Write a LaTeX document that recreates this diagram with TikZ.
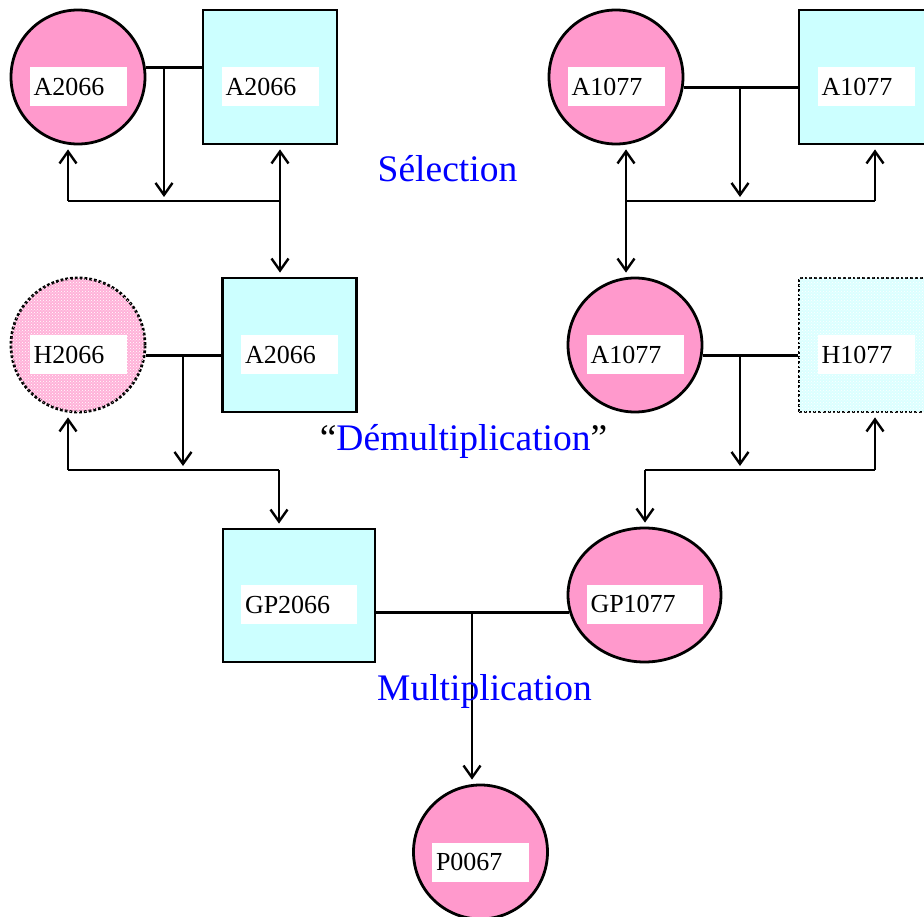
\documentclass[tikz,border=0pt]{standalone}
\usepackage{fontspec}
\setmainfont{Liberation Serif}
\usepackage{xcolor}
\usepackage{tikz}
\usetikzlibrary{arrows.meta,shapes.geometric,patterns}
\definecolor{pinkfill}{RGB}{255,153,204}
\definecolor{cyanfill}{RGB}{204,255,255}
\definecolor{stageblue}{RGB}{0,0,255}
\newcommand{\labfont}{\fontsize{26}{26}\selectfont}
\newcommand{\stagefont}{\fontsize{37.5}{37.5}\selectfont}
\tikzset{
  fem/.style={circle, draw, line width=2.8pt, fill=pinkfill, minimum size=134pt, inner sep=0pt},
  mal/.style={rectangle, draw, line width=2.8pt, fill=cyanfill, minimum width=134pt,
              minimum height=134pt, inner sep=0pt},
  hidden/.style={dotted, postaction={pattern=crosshatch dots, pattern color=white}},
  tag/.style={fill=white, inner xsep=4pt, inner ysep=0pt, text width=89pt,
              minimum height=39pt, align=left, font=\labfont},
  widetag/.style={tag, text width=108pt},
  stage/.style={anchor=base, text=stageblue, font=\stagefont},
  link/.style={line width=2.4pt},
  arrow/.style={link, -{Straight Barb[length=12pt,width=17pt,line width=2.4pt]}, shorten >=4pt}
}
\begin{document}
\begin{tikzpicture}[x=1pt,y=-1pt]
  \clip (0,0) rectangle (924,917);
  % Selection
  \node[fem] (ca2066) at (78,77) {};
  \node[mal] (sa2066) at (270,77) {};
  \node[fem] (ca1077) at (616,77) {};
  \node[mal] (sa1077) at (866,77) {};
  % Demultiplication
  \node[fem, fill=pinkfill!75, hidden] (hc2066) at (78,345) {};
  \node[mal] (sa2066m) at (289.5,345) {};
  \node[fem] (ca1077m) at (635,345) {};
  \node[mal, fill=cyanfill!70, hidden] (hs1077) at (866,345) {};
  % Multiplication
  \node[mal, minimum width=152pt, minimum height=133pt] (sgp2066) at (299,595.5) {};
  \node[fem, ellipse, minimum width=153pt, minimum height=134pt] (cgp1077) at (644.5,595) {};
  \node[fem] (cp0067) at (480.5,852) {};

  \node[tag] (t1) at ([yshift=-9.5pt]ca2066) {A2066};
  \node[tag] (t2) at ([yshift=-9.5pt]sa2066) {A2066};
  \node[tag] (t3) at ([yshift=-9.5pt]ca1077) {A1077};
  \node[tag] (t4) at ([yshift=-9.5pt]sa1077) {A1077};
  \node[tag] (t5) at ([yshift=-9.5pt]hc2066) {H2066};
  \node[tag] (t6) at ([yshift=-9.5pt]sa2066m) {A2066};
  \node[tag] (t7) at ([yshift=-9.5pt]ca1077m) {A1077};
  \node[tag] (t8) at ([yshift=-9.5pt]hs1077) {H1077};
  \node[widetag] (t9) at ([yshift=-9pt]sgp2066) {GP2066};
  \node[widetag] (t10) at ([yshift=-9pt]cgp1077) {GP1077};
  \node[tag] (t11) at ([yshift=-10pt]cp0067) {P0067};

  % junctions
  \coordinate (dl1) at (164,201);
  \coordinate (sl1) at (68,201);
  \coordinate (sr1) at (280,201);
  \coordinate (dr1) at (740,201);
  \coordinate (sl2) at (626,201);
  \coordinate (sr2) at (875,201);
  \coordinate (dl2) at (183,470);
  \coordinate (sl3) at (68,470);
  \coordinate (sr3) at (279,470);
  \coordinate (dr2) at (740,470);
  \coordinate (sl4) at (645,470);
  \coordinate (sr4) at (875,470);
  \coordinate (db) at (472,612);

  % top left
  \draw[link] (ca2066.8) -- (ca2066.8 -| sa2066.west);
  \draw[arrow] (dl1 |- ca2066.8) -- (dl1);
  \draw[link] (sl1) -- (sr1);
  \draw[arrow] (sl1) -- (sl1 |- ca2066.south);
  \draw[arrow] (sr1) -- (sr1 |- sa2066.south);
  \draw[arrow] (sr1) -- (sr1 |- sa2066m.north);
  % top right
  \draw[link] (ca1077.351) -- (ca1077.351 -| sa1077.west);
  \draw[arrow] (dr1 |- ca1077.351) -- (dr1);
  \draw[link] (sl2) -- (sr2);
  \draw[arrow] (sl2) -- (sl2 |- ca1077.south);
  \draw[arrow] (sr2) -- (sr2 |- sa1077.south);
  \draw[arrow] (sl2) -- (sl2 |- ca1077m.north);
  % middle left
  \draw[link] (hc2066.351) -- (hc2066.351 -| sa2066m.west);
  \draw[arrow] (dl2 |- hc2066.351) -- (dl2);
  \draw[link] (sl3) -- (sr3);
  \draw[arrow] (sl3) -- (sl3 |- hc2066.south);
  \draw[arrow] (sr3) -- (sr3 |- sgp2066.north);
  % middle right
  \draw[link] (ca1077m.351) -- (ca1077m.351 -| hs1077.west);
  \draw[arrow] (dr2 |- ca1077m.351) -- (dr2);
  \draw[link] (sl4) -- (sr4);
  \draw[arrow] (sr4) -- (sr4 |- hs1077.south);
  \draw[arrow] (sl4) -- (sl4 |- cgp1077.north);
  % bottom
  \draw[link] (cgp1077.193) -- (cgp1077.193 -| sgp2066.east);
  \draw[arrow] (db) -- (db |- cp0067.north);

  \node[stage] (sel) at (447.5,182) {Sélection};
  \node[stage] (dem) at (463.5,450) {\textcolor{black}{“}Démultiplication\textcolor{black}{”}};
  \node[stage] (mul) at (484.5,700) {Multiplication};
\end{tikzpicture}
\end{document}
